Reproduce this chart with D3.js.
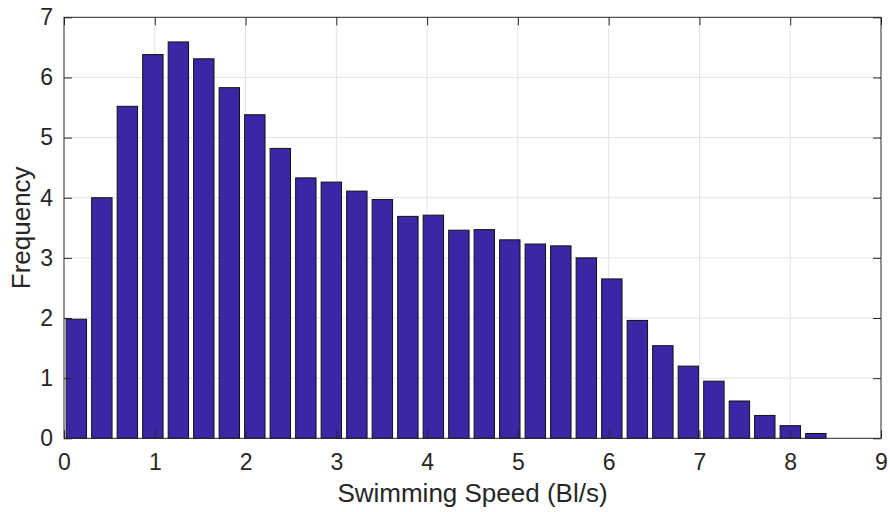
<!DOCTYPE html>
<html>
<head>
<meta charset="utf-8">
<script src="https://cdn.jsdelivr.net/npm/d3@7"></script>
<style>
  html, body { margin: 0; padding: 0; background: #fff; }
  svg { display: block; font-family: "Liberation Sans", Arial, Helvetica, sans-serif; }
</style>
</head>
<body>
<svg id="chart" width="890" height="512"></svg>
<script>
// Histogram of swimming speed (body lengths per second)
const binCenters = [0.136, 0.417, 0.698, 0.979, 1.260, 1.540, 1.821, 2.102, 2.383, 2.664,
                    2.945, 3.226, 3.507, 3.788, 4.069, 4.350, 4.630, 4.911, 5.192, 5.473,
                    5.754, 6.035, 6.316, 6.597, 6.878, 7.159, 7.440, 7.720, 8.001, 8.282];
const frequency = [1.98, 4.00, 5.52, 6.38, 6.59, 6.31, 5.83, 5.38, 4.82, 4.33,
                   4.26, 4.11, 3.97, 3.69, 3.71, 3.46, 3.47, 3.30, 3.23, 3.20,
                   3.00, 2.65, 1.96, 1.54, 1.20, 0.95, 0.62, 0.38, 0.21, 0.08];
const binWidth = 0.2809;
const xTicks = [0, 1, 2, 3, 4, 5, 6, 7, 8, 9];
const yTicks = [0, 1, 2, 3, 4, 5, 6, 7];
const xLabel = "Swimming Speed (Bl/s)";
const yLabel = "Frequency";

const W = 890, H = 512;
const margin = { top: 17.3, right: 9, bottom: 73.7, left: 64 };
const iw = W - margin.left - margin.right;
const ih = H - margin.top - margin.bottom;
const ink = "#262626";

const svg = d3.select("#chart");
const g = svg.append("g").attr("transform", `translate(${margin.left},${margin.top})`);

const x = d3.scaleLinear().domain([0, 9]).range([0, iw]);
const y = d3.scaleLinear().domain([0, 7]).range([ih, 0]);

// grid lines (below the bars)
const grid = g.append("g").attr("class", "grid");
grid.selectAll("line.gx").data(xTicks.slice(1, -1)).join("line")
  .attr("x1", d => x(d)).attr("x2", d => x(d))
  .attr("y1", 0).attr("y2", ih)
  .attr("stroke", "#e3e3e3").attr("stroke-width", 1);
grid.selectAll("line.gy").data(yTicks.slice(1, -1)).join("line")
  .attr("x1", 0).attr("x2", iw)
  .attr("y1", d => y(d)).attr("y2", d => y(d))
  .attr("stroke", "#e3e3e3").attr("stroke-width", 1);

// bars
const barW = x(binWidth * 0.8) - x(0);
g.append("g").selectAll("rect").data(frequency).join("rect")
  .attr("x", (d, i) => x(binCenters[i]) - barW / 2)
  .attr("y", d => y(d))
  .attr("width", barW)
  .attr("height", d => y(0) - y(d))
  .attr("fill", "#3c26a5")
  .attr("stroke", "#111")
  .attr("stroke-width", 1);

// axes with inward ticks on all four sides
const tickLen = 8;
const styleAxis = sel => {
  sel.select(".domain").remove();
  sel.selectAll(".tick line").attr("stroke", ink).attr("stroke-width", 1);
  sel.selectAll(".tick text").attr("fill", ink).attr("font-size", 23)
     .attr("font-family", "Liberation Sans, Arial, sans-serif");
};

g.append("g").attr("transform", `translate(0,${ih})`)
  .call(d3.axisBottom(x).tickValues(xTicks).tickFormat(d3.format("d"))
        .tickSizeInner(-tickLen).tickSizeOuter(0).tickPadding(15))
  .call(styleAxis);
g.append("g")
  .call(d3.axisTop(x).tickValues(xTicks).tickFormat("")
        .tickSizeInner(-tickLen).tickSizeOuter(0))
  .call(styleAxis);
g.append("g")
  .call(d3.axisLeft(y).tickValues(yTicks).tickFormat(d3.format("d"))
        .tickSizeInner(-tickLen).tickSizeOuter(0).tickPadding(11))
  .call(styleAxis);
g.append("g").attr("transform", `translate(${iw},0)`)
  .call(d3.axisRight(y).tickValues(yTicks).tickFormat("")
        .tickSizeInner(-tickLen).tickSizeOuter(0))
  .call(styleAxis);

// box
g.append("rect").attr("x", 0).attr("y", 0).attr("width", iw).attr("height", ih)
  .attr("fill", "none").attr("stroke", ink).attr("stroke-width", 1);

// axis titles
svg.append("text")
  .attr("x", margin.left + iw / 2).attr("y", 502)
  .attr("text-anchor", "middle").attr("fill", ink).attr("font-size", 26)
  .text(xLabel);
svg.append("text")
  .attr("transform", `translate(30,${margin.top + ih / 2}) rotate(-90)`)
  .attr("text-anchor", "middle").attr("fill", ink).attr("font-size", 26)
  .text(yLabel);
</script>
</body>
</html>
